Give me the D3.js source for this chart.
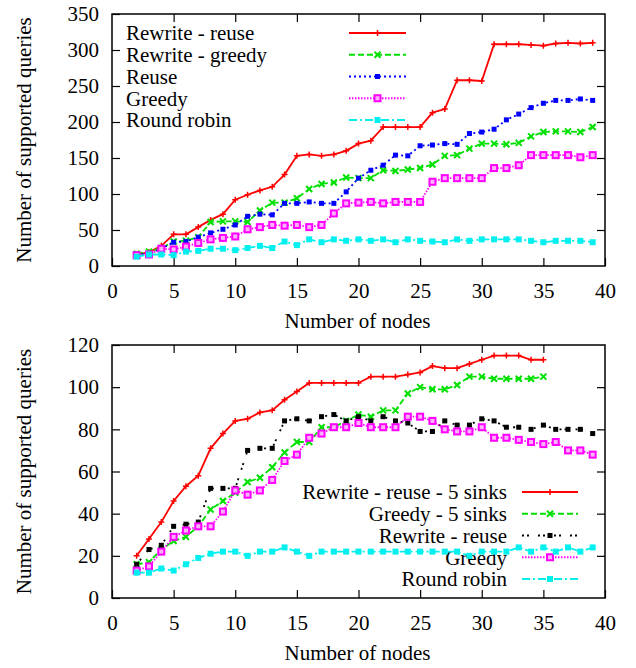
<!DOCTYPE html>
<html>
<head>
<meta charset="utf-8">
<script src="https://cdn.jsdelivr.net/npm/d3@7"></script>
<style>
  body { margin: 0; background: #fff; }
  svg text { font-family: "Liberation Serif", "Times New Roman", Times, Tinos, "Noto Serif", "DejaVu Serif", serif !important; fill: #000; }
</style>
</head>
<body>
<svg id="chart" width="636" height="668"></svg>
<script>
// node counts on the x axis
const nodes = [2,3,4,5,6,7,8,9,10,11,12,13,14,15,16,17,18,19,20,21,22,23,24,25,26,27,28,29,30,31,32,33,34,35,36,37,38,39];
const nodes5 = [2,3,4,5,6,7,8,9,10,11,12,13,14,15,16,17,18,19,20,21,22,23,24,25,26,27,28,29,30,31,32,33,34,35];

// top chart
const rewriteReuse  = [16,19,28,44,44,54,64,72,92,99,105,110,127,153,155,153,155,160,170,174,193,193,193,193,213,218,258,258,257,308,308,308,307,306,309,310,309,310];
const rewriteGreedy = [17,20,25,34,35,40,61,62,62,61,77,88,88,94,107,114,116,123,122,122,133,132,134,136,141,153,154,163,170,170,169,171,180,186,187,187,186,193];
const reuse         = [16,17,24,33,34,40,46,51,57,69,72,71,87,87,89,87,87,103,122,133,140,154,153,167,168,170,169,184,186,190,203,211,220,226,230,230,232,230];
const greedy        = [15,16,24,23,27,32,37,39,41,51,54,57,56,57,54,57,73,87,88,89,87,89,89,89,117,122,122,122,122,136,136,140,154,154,154,154,151,154];
const roundRobin    = [13,16,16,15,20,21,24,24,22,25,28,25,34,29,37,33,37,35,37,35,37,33,37,35,34,33,37,35,37,37,37,37,35,33,35,35,35,33];

// bottom chart
const rewriteReuse5 = [20,28,36,46,53,58,71,78,84,85,88,89,94,98,102,102,102,102,102,105,105,105,106,107,110,109,109,111,113,115,115,115,113,113];
const greedy5       = [16,17,23,27,29,34,42,46,50,55,57,62,69,74,74,81,81,84,87,86,89,89,97,100,99,99,101,105,105,104,104,104,104,105];
const rewriteReuseB = [16,23,25,34,35,36,52,52,52,70,71,71,84,85,84,86,87,84,86,84,86,84,83,79,79,84,82,82,85,84,81,81,80,82,80,80,80,78];
const greedyB       = [13,15,22,29,32,34,34,41,51,49,51,56,65,68,76,78,81,81,83,81,81,81,86,86,84,80,79,79,81,76,76,75,74,73,74,70,70,68];
const roundRobinB   = [12,12,14,13,16,19,21,22,22,20,22,22,24,22,20,22,22,22,22,22,22,22,22,22,22,22,22,20,22,22,22,24,22,24,22,24,22,24];

const xTicks = [0,5,10,15,20,25,30,35,40];
const yTicksTop = [0,50,100,150,200,250,300,350];
const yTicksBottom = [0,20,40,60,80,100,120];

const styles = {
  red:     {color: "#ff0000", dash: null,        marker: "plus"},
  green:   {color: "#00e000", dash: "6,3",       marker: "cross"},
  blue:    {color: "#0000ff", dash: "2,3",       marker: "square"},
  magenta: {color: "#ff00ff", dash: "1.5,1.5",   marker: "open"},
  cyan:    {color: "#00f0f0", dash: "8,3,2,3",   marker: "bigsquare"},
  black:   {color: "#000000", dash: "2,3,2,9",   marker: "square"}
};

const FS = 21;
const svg = d3.select("#chart");
const left = 112, right = 605;

function marker(g, type, color, x, y) {
  if (type === "plus") {
    g.append("path").attr("d", `M${x-3},${y}H${x+3}M${x},${y-3}V${y+3}`)
      .attr("stroke", color).attr("stroke-width", 1.5);
  } else if (type === "cross") {
    g.append("path").attr("d", `M${x-3},${y-3}L${x+3},${y+3}M${x-3},${y+3}L${x+3},${y-3}`)
      .attr("stroke", color).attr("stroke-width", 2);
  } else if (type === "square") {
    g.append("rect").attr("x", x-2.5).attr("y", y-2.5).attr("width", 5).attr("height", 5).attr("fill", color);
  } else if (type === "bigsquare") {
    g.append("rect").attr("x", x-3).attr("y", y-3).attr("width", 6).attr("height", 6).attr("fill", color);
  } else if (type === "open") {
    g.append("rect").attr("x", x-3).attr("y", y-3).attr("width", 6).attr("height", 6)
      .attr("fill", "#ffb0ff").attr("stroke", color).attr("stroke-width", 2);
  }
}

function drawPanel(top, bottom, yMax, yTicks, series, legend) {
  const x = d3.scaleLinear().domain([0, 40]).range([left, right]);
  const y = d3.scaleLinear().domain([0, yMax]).range([bottom, top]);
  const g = svg.append("g");

  // axes with inward, mirrored ticks
  g.append("g").attr("transform", `translate(0,${bottom})`)
    .call(d3.axisBottom(x).tickValues(xTicks).tickSize(-8).tickPadding(17).tickFormat(d3.format("d")));
  g.append("g").attr("transform", `translate(0,${top})`)
    .call(d3.axisTop(x).tickValues(xTicks.slice(1, -1)).tickSize(-8).tickFormat(""));
  g.append("g").attr("transform", `translate(${left},0)`)
    .call(d3.axisLeft(y).tickValues(yTicks).tickSize(-8).tickPadding(13).tickFormat(d3.format("d")));
  g.append("g").attr("transform", `translate(${right},0)`)
    .call(d3.axisRight(y).tickValues(yTicks.slice(1, -1)).tickSize(-8).tickFormat(""));
  g.selectAll(".domain").remove();
  g.selectAll(".tick line").attr("stroke", "#000").attr("stroke-width", 1.2);
  g.selectAll(".tick text").attr("font-size", FS);
  g.selectAll("text").filter(function() { return this.textContent === ""; }).remove();

  g.append("rect").attr("x", left).attr("y", top).attr("width", right - left).attr("height", bottom - top)
    .attr("fill", "none").attr("stroke", "#000").attr("stroke-width", 1.5);

  g.append("text").attr("x", (left + right) / 2 - 1).attr("y", bottom + 62)
    .attr("text-anchor", "middle").attr("font-size", FS).text("Number of nodes");
  g.append("text").attr("transform", `translate(24,${(top + bottom) / 2}) rotate(-90)`)
    .attr("text-anchor", "middle").attr("dy", "0.35em").attr("font-size", FS).text("Number of supported queries");

  const line = d3.line().x(d => x(d[0])).y(d => y(d[1]));

  series.forEach((s, i) => {
    const st = styles[s.style];
    const ly = legend.y0 + i * legend.dy;
    g.append("text").attr("x", legend.textX).attr("y", ly).attr("dy", "0.35em")
      .attr("text-anchor", legend.anchor).attr("font-size", FS).text(s.name);
    g.append("line").attr("x1", legend.x1).attr("x2", legend.x2).attr("y1", ly).attr("y2", ly)
      .attr("stroke", st.color).attr("stroke-width", 1.8).attr("stroke-dasharray", st.dash);
    marker(g, st.marker, st.color, (legend.x1 + legend.x2) / 2, ly);

    const pts = s.x.map((v, j) => [v, s.values[j]]);
    g.append("path").datum(pts).attr("d", line).attr("fill", "none")
      .attr("stroke", st.color).attr("stroke-width", 1.8).attr("stroke-dasharray", st.dash);
    pts.forEach(p => marker(g, st.marker, st.color, x(p[0]), y(p[1])));
  });
}

drawPanel(14, 266, 350, yTicksTop, [
  {name: "Rewrite - reuse",  x: nodes, values: rewriteReuse,  style: "red"},
  {name: "Rewrite - greedy", x: nodes, values: rewriteGreedy, style: "green"},
  {name: "Reuse",            x: nodes, values: reuse,         style: "blue"},
  {name: "Greedy",           x: nodes, values: greedy,        style: "magenta"},
  {name: "Round robin",      x: nodes, values: roundRobin,    style: "cyan"}
], {textX: 126, anchor: "start", x1: 349, x2: 406, y0: 33, dy: 21.75});

drawPanel(345, 598, 120, yTicksBottom, [
  {name: "Rewrite - reuse - 5 sinks", x: nodes5, values: rewriteReuse5, style: "red"},
  {name: "Greedy - 5 sinks",          x: nodes5, values: greedy5,       style: "green"},
  {name: "Rewrite - reuse",           x: nodes,  values: rewriteReuseB, style: "black"},
  {name: "Greedy",                    x: nodes,  values: greedyB,       style: "magenta"},
  {name: "Round robin",               x: nodes,  values: roundRobinB,   style: "cyan"}
], {textX: 507, anchor: "end", x1: 522, x2: 578, y0: 492, dy: 21.75});
</script>
</body>
</html>
